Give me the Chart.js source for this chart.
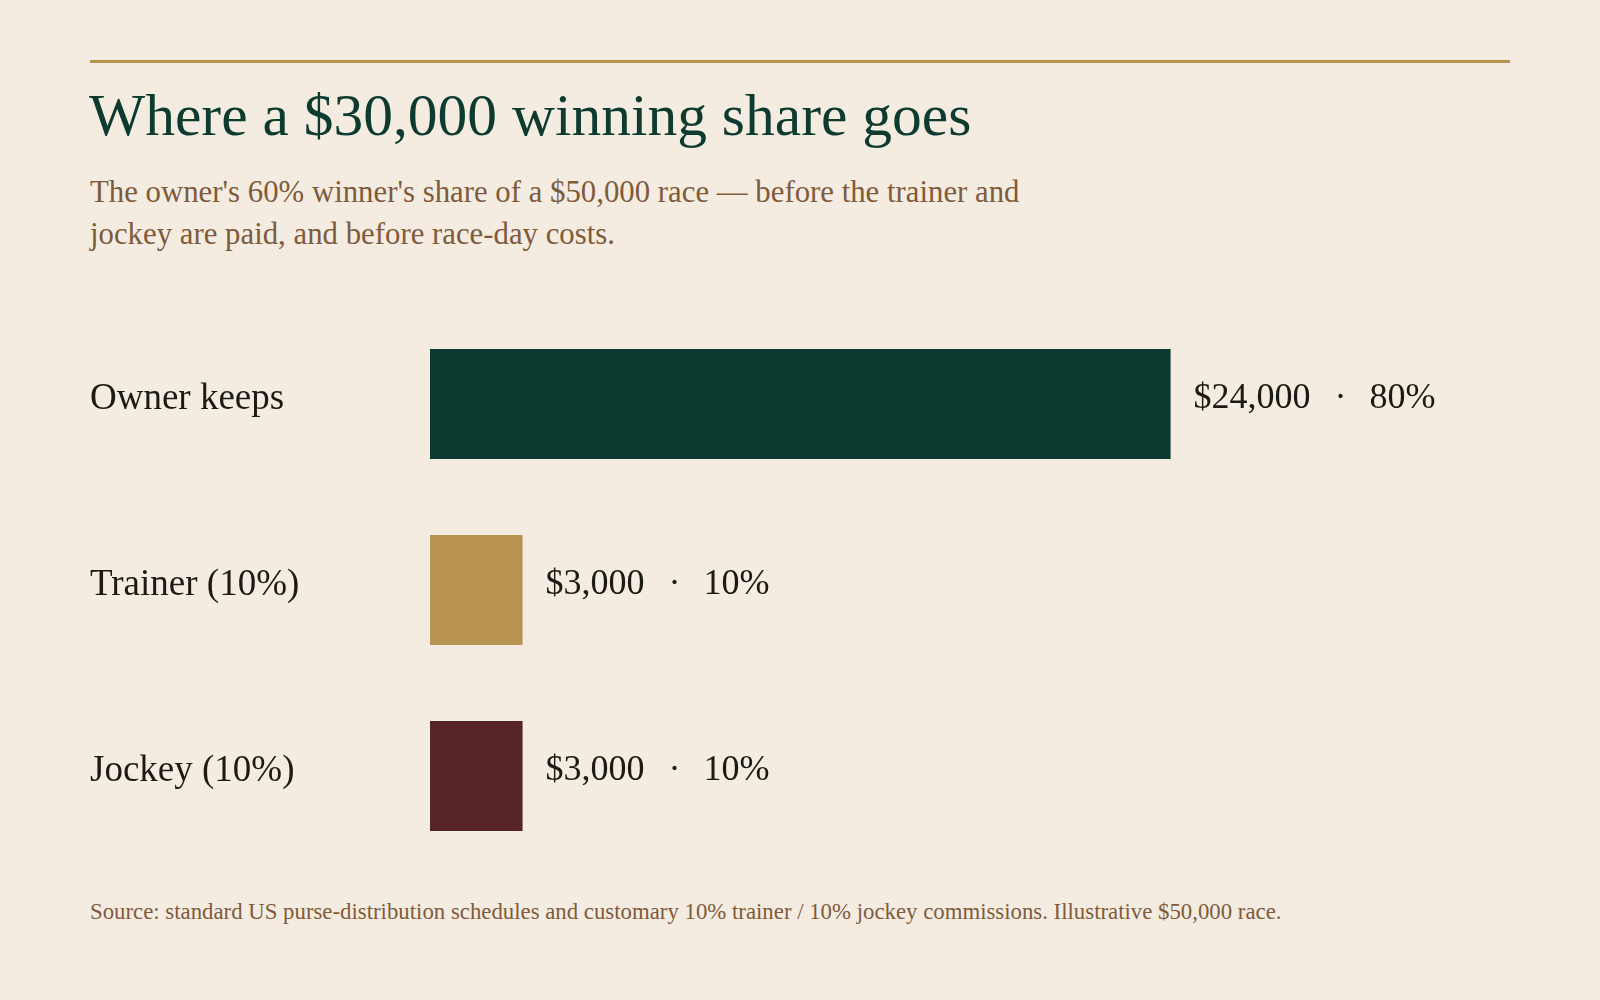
<!DOCTYPE html>
<html>
<head>
<meta charset="utf-8">
<script src="https://cdn.jsdelivr.net/npm/chart.js@4.4.1/dist/chart.umd.min.js"></script>
<style>
  html, body { margin: 0; padding: 0; background: #f4ece0; }
  body { width: 1600px; height: 1000px; position: relative; overflow: hidden; font-family: "Liberation Serif", "DejaVu Serif", serif; }
  #rule { position: absolute; left: 90px; top: 60px; width: 1420px; height: 3px; background: #b8924f; }
  #title { position: absolute; left: 89px; top: 80px; margin: 0; font-size: 59.5px; font-weight: normal; color: #0d3b30; line-height: 70px; white-space: nowrap; }
  #subtitle { position: absolute; left: 90px; top: 171px; margin: 0; font-size: 30.8px; color: #7f5b3c; line-height: 42px; white-space: nowrap; }
  #footer { position: absolute; left: 90px; top: 898px; margin: 0; font-size: 22.8px; color: #7f5b3c; white-space: nowrap; line-height: 28px; }
  #wrap { position: absolute; left: 90px; top: 311px; width: 1420px; height: 558px; }
</style>
</head>
<body>
<div id="rule"></div>
<h1 id="title">Where a $30,000 winning share goes</h1>
<p id="subtitle">The owner's 60% winner's share of a $50,000 race — before the trainer and<br>jockey are paid, and before race-day costs.</p>
<div id="wrap"><canvas id="c"></canvas></div>
<p id="footer">Source: standard US purse-distribution schedules and customary 10% trainer / 10% jockey commissions. Illustrative $50,000 race.</p>
<script>
const categories = ["Owner keeps", "Trainer (10%)", "Jockey (10%)"];
const amounts = [24000, 3000, 3000];
const percents = [80, 10, 10];
const barColors = ["#0c3a30", "#b89450", "#572528"];
const axisMax = 35000;

const valueLabels = {
  id: "valueLabels",
  afterDatasetsDraw(chart) {
    const ctx = chart.ctx;
    const meta = chart.getDatasetMeta(0);
    ctx.save();
    ctx.font = '36px "Liberation Serif", serif';
    ctx.fillStyle = "#1b1a14";
    ctx.textBaseline = "middle";
    meta.data.forEach((bar, i) => {
      const y = bar.y - 5;
      let x = bar.x + 23;
      const v = "$" + amounts[i].toLocaleString("en-US");
      ctx.textAlign = "left";
      ctx.fillText(v, x, y);
      x += ctx.measureText(v).width + 30;
      ctx.textAlign = "center";
      ctx.fillText("·", x, y);
      x += 29;
      ctx.textAlign = "left";
      ctx.fillText(percents[i] + "%", x, y);
    });
    ctx.restore();
  }
};

new Chart(document.getElementById("c"), {
  type: "bar",
  data: {
    labels: categories,
    datasets: [{
      data: amounts,
      backgroundColor: barColors,
      borderWidth: 0,
      categoryPercentage: 1,
      barPercentage: 0.592
    }]
  },
  options: {
    indexAxis: "y",
    responsive: true,
    maintainAspectRatio: false,
    animation: false,
    layout: { padding: 0 },
    plugins: { legend: { display: false }, tooltip: { enabled: false } },
    scales: {
      x: { display: false, min: 0, max: axisMax },
      y: {
        grid: { display: false },
        border: { display: false },
        ticks: {
          crossAlign: "far",
          padding: 0,
          labelOffset: -5,
          color: "#1b1a14",
          font: { family: '"Liberation Serif", serif', size: 37 }
        },
        afterFit(scale) {
          scale.width = 340;
          scale.paddingTop = 0;
          scale.paddingBottom = 0;
        }
      }
    }
  },
  plugins: [valueLabels]
});
</script>
</body>
</html>
